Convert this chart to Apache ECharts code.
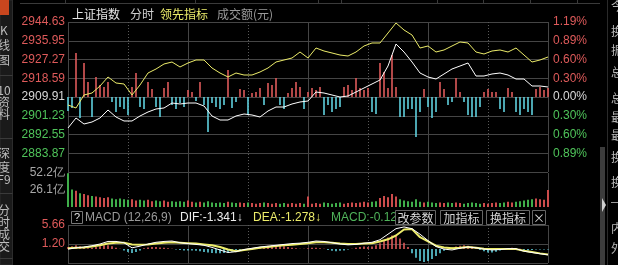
<!DOCTYPE html>
<html><head><meta charset="utf-8">
<script src="https://cdn.jsdelivr.net/npm/echarts@6/dist/echarts.min.js"></script>
<style>html,body{margin:0;padding:0;background:#000;overflow:hidden}#c{width:618px;height:265px}</style>
</head><body><div id="c"></div>
<script>
// ---------- data ----------
const preClose = 2909.91;
const priceStep = 8.68;
const leftTicks  = ['2944.63','2935.95','2927.27','2918.59','2909.91','2901.23','2892.55','2883.87'];
const rightTicks = ['1.19%','0.89%','0.60%','0.30%','0.00%','0.30%','0.60%','0.89%'];
const volTicks = ['26.1亿','52.2亿'];
const macdTicks = ['1.20','5.66'];
const volMax = 52.2;
// price (white) and leading indicator (yellow), one value every 4 minutes
const indexPrice = [2895.56,2900.19,2897.41,2898.34,2900.19,2903.89,2900.65,2898.80,2898.80,2901.11,
 2902.97,2904.36,2904.82,2907.13,2906.67,2907.13,2907.13,2905.74,2901.11,2899.26,
 2899.26,2901.11,2902.04,2901.58,2900.65,2903.43,2905.28,2905.28,2906.67,2907.60,
 2908.06,2912.22,2911.76,2910.84,2909.91,2910.37,2912.22,2914.08,2915.93,2917.78,
 2924.26,2934.45,2930.74,2926.11,2921.02,2919.17,2918.24,2920.56,2922.87,2924.26,
 2925.65,2919.63,2919.63,2920.56,2921.02,2920.09,2918.24,2918.24,2915.00,2915.00,2914.54];
const leadPrice = [2906.21,2904.82,2910.84,2911.76,2915.00,2919.17,2916.39,2915.93,2910.84,2915.47,
 2921.02,2922.87,2925.19,2926.11,2923.80,2925.65,2927.04,2927.04,2923.34,2921.02,
 2919.17,2921.02,2920.09,2920.09,2921.48,2923.34,2926.11,2927.04,2927.96,2930.74,
 2927.96,2932.59,2931.21,2930.28,2929.35,2928.89,2930.74,2933.52,2934.91,2934.91,
 2939.54,2944.17,2940.93,2938.61,2932.59,2933.52,2930.74,2931.67,2933.52,2935.37,
 2934.91,2930.74,2929.82,2931.21,2931.67,2930.74,2932.59,2929.35,2926.11,2927.04,2928.43];
// buy/sell strength bars, one every 2 minutes
const strength = [-14,-11,44,-21,34,15,-20,20,12,10,
 15,-5,-15,-10,-12,-18,10,24,-10,-12,
 15,8,-10,-20,9,15,-8,-12,-6,-10,
 7,5,-4,15,-8,-35,-6,-10,-12,-8,
 27,-11,-5,8,7,-18,4,5,9,-8,
 14,12,19,-8,-12,4,9,15,10,-12,
 5,9,7,10,-18,-8,-15,-12,-10,10,
 12,7,19,9,7,9,-15,-17,34,25,
 9,42,10,-20,-20,-12,-12,-40,-15,8,
 -10,-21,-15,15,8,-8,-5,19,5,-5,
 -18,-20,-20,-10,5,8,5,5,-12,-15,
 9,5,-15,-18,-12,-15,-18,8,10,7,9];
// turnover (亿), one every 2 minutes
const volume = [52,27,25,21,20,18,17,16,15,14,
 15,13,12,13,12,11,12,10,11,10,
 11,9,10,9,10,8,9,8,9,8,
 10,8,7,8,7,9,7,6,7,6,
 8,7,6,7,6,7,6,5,6,7,
 6,5,6,5,6,5,6,5,6,5,
 16,5,6,5,7,6,5,6,7,5,
 6,7,6,7,8,7,8,9,14,17,
 15,20,16,12,10,9,8,12,8,7,
 8,7,6,7,6,7,6,7,6,5,
 6,7,6,5,6,5,6,7,6,7,
 8,7,8,9,10,11,12,13,12,11,26];
// MACD histogram, one every 2 minutes
const macdBar = [0.5,0.7,0.9,0.7,0.3,0.2,0.3,0.5,0.7,0.9,
 0.9,0.7,0.3,0.1,-0.3,-0.7,-0.9,-0.7,-0.3,0.2,
 0.4,0.5,0.5,0.4,0.3,0.2,0.1,-0.1,-0.2,-0.3,
 -0.3,-0.3,-0.4,-0.5,-0.7,-0.8,-0.9,-1.0,-1.0,-0.9,
 -0.8,-0.6,-0.4,-0.2,0,0.1,0.2,0.3,0.4,0.6,
 0.8,0.9,0.9,0.8,0.7,0.5,0.3,0.2,0.1,0.1,
 0.2,0.3,0.3,0.2,0.1,-0.2,-0.4,-0.5,-0.4,-0.3,
 -0.1,0.1,0.3,0.5,0.6,0.5,0.6,0.9,1.4,2.0,
 2.7,3.2,3.3,2.5,1.5,0.5,-1.0,-2.0,-2.8,-3.0,
 -2.8,-2.3,-1.6,-1.0,-0.4,0.1,0.4,0.6,0.8,0.9,
 0.8,0.6,0.3,-0.2,-0.5,-0.8,-0.8,-0.6,-0.3,0.1,
 0.2,0.3,0.2,0.1,-0.2,-0.3,-0.2,-0.1,-0.1,-0.1,-0.12];
// DIF / DEA, one every 4 minutes
const dif = [0,0.3,0.5,0.8,1.2,1.8,1.8,1.5,0.3,0.7,
 1.2,1.6,1.8,1.9,1.5,1.3,1.1,0.9,0.4,-0.2,
 -0.8,-0.6,-0.1,0.2,0.5,0.7,0.9,1.1,1.3,1.4,
 1.6,1.9,1.8,1.5,1.2,1.0,1.1,1.4,1.6,2.2,
 3.5,4.8,5.2,4.8,3.5,2.0,0.6,0,-0.2,0.2,
 0.5,0.3,0,-0.2,-0.1,0.1,0.1,-0.5,-0.8,-1.1,-1.34];
const dea = [0.2,0.3,0.4,0.6,0.9,1.3,1.5,1.5,1.1,1.0,
 1.1,1.3,1.5,1.6,1.5,1.4,1.3,1.1,0.9,0.5,
 -0.1,-0.5,-0.2,0,0.3,0.5,0.7,0.9,1.0,1.2,
 1.4,1.6,1.6,1.5,1.3,1.2,1.2,1.3,1.4,1.8,
 2.3,3.2,4.6,4.7,2.8,1.8,0.8,0.4,0.2,0.3,
 0.5,0.3,0.1,0,0,0,0,-0.4,-0.7,-1.0,-1.28];
const macdMin = -3.26, macdMax = 5.66, macdStep = 4.46;

// ---------- styles ----------
const RED = '#de5a5a', GREEN = '#4fc45a', CYAN = '#5fd0de', YEL = '#ecec6a';
const GRID = '#454545';
const NUM = '"Liberation Sans", Arial, sans-serif';
const CJK = '"Noto Sans CJK SC", sans-serif';

const lineStep = 4, barStep = 2;
const toPair = (arr, step, f) => arr.map((v, i) => [i * step, f ? f(v) : v]);

function xPair(grid) {
  return [
    {type:'value', gridIndex:grid, min:0, max:240, interval:30,
     axisLine:{show:false}, axisTick:{show:false}, axisLabel:{show:false},
     splitLine:{show:true, lineStyle:{color:'#5a5a5a', type:[1,2], width:1}}},
    {type:'value', gridIndex:grid, min:0, max:240, interval:60,
     axisLine:{show:false}, axisTick:{show:false}, axisLabel:{show:false},
     splitLine:{show:true, lineStyle:{color:GRID, width:1}}}
  ];
}

const priceColor = v => v > 0.001 ? RED : (v < -0.001 ? GREEN : '#d8d8d8');

const option = {
  backgroundColor:'#000',
  animation:false,
  grid:[
    {left:68, top:22, width:480, height:150},
    {left:68, top:173, width:480, height:34},
    {left:68, top:225, width:480, height:38}
  ],
  xAxis:[].concat(xPair(0), xPair(1), xPair(2)),
  yAxis:[
    {type:'value', gridIndex:0, min:-4*priceStep, max:4*priceStep, interval:priceStep,
     axisLine:{show:false}, axisTick:{show:false},
     axisLabel:{margin:3, fontSize:12, fontFamily:NUM, color:priceColor,
       formatter:v => { const k = Math.round(v/priceStep); return k <= -4 ? '' : leftTicks[4-k]; }},
     splitLine:{show:true, lineStyle:{color:GRID, width:1}}},
    {type:'value', gridIndex:0, position:'right', min:-4*priceStep, max:4*priceStep, interval:priceStep,
     axisLine:{show:false}, axisTick:{show:false},
     axisLabel:{margin:5, fontSize:12, fontFamily:NUM, color:priceColor,
       formatter:v => { const k = Math.round(v/priceStep); return k <= -4 ? '' : rightTicks[4-k]; }},
     splitLine:{show:false}},
    {type:'value', gridIndex:0, min:-75, max:75, show:false, splitLine:{show:false}},
    {type:'value', gridIndex:1, min:0, max:volMax, interval:volMax/2,
     axisLine:{show:false}, axisTick:{show:false},
     axisLabel:{margin:3, fontSize:12, fontFamily:NUM, color:'#a8a8a8',
       formatter:v => { const k = Math.round(v/(volMax/2)); return k <= 0 ? '' : volTicks[k-1]; }},
     splitLine:{show:false}},
    {type:'value', gridIndex:2, min:-macdStep, max:macdStep, interval:macdStep,
     axisLine:{show:false}, axisTick:{show:false},
     axisLabel:{margin:3, fontSize:12, fontFamily:NUM, color:RED,
       formatter:v => { const k = Math.round(v/macdStep); return k < 0 ? '' : macdTicks[k]; }},
     splitLine:{show:true, lineStyle:{color:GRID, width:1}}},
    {type:'value', gridIndex:2, min:macdMin, max:macdMax, show:false, splitLine:{show:false}}
  ],
  series:[
    {type:'bar', xAxisIndex:0, yAxisIndex:2, barWidth:1.6, silent:true,
     data: strength.map((v,i) => ({value:[i*barStep, v], itemStyle:{color: v >= 0 ? RED : CYAN}}))},
    {type:'line', xAxisIndex:0, yAxisIndex:0, showSymbol:false, silent:true,
     lineStyle:{color:YEL, width:1}, data: toPair(leadPrice, lineStep, p => p - preClose)},
    {type:'line', xAxisIndex:0, yAxisIndex:0, showSymbol:false, silent:true,
     lineStyle:{color:'#ffffff', width:1}, data: toPair(indexPrice, lineStep, p => p - preClose)},
    {type:'bar', xAxisIndex:2, yAxisIndex:3, barWidth:2, silent:true,
     data: volume.map((v,i) => ({value:[i*barStep, v], itemStyle:{color: strength[i] >= 0 ? '#cc4b4b' : '#3fae4a'}}))},
    {type:'bar', xAxisIndex:4, yAxisIndex:5, barWidth:1.6, silent:true,
     data: macdBar.map((v,i) => ({value:[i*barStep, v], itemStyle:{color: v >= 0 ? RED : CYAN}}))},
    {type:'line', xAxisIndex:4, yAxisIndex:5, showSymbol:false, silent:true,
     lineStyle:{color:YEL, width:2}, data: toPair(dea, lineStep)},
    {type:'line', xAxisIndex:4, yAxisIndex:5, showSymbol:false, silent:true,
     lineStyle:{color:'#ffffff', width:1}, data: toPair(dif, lineStep)}
  ],
  graphic:[]
};

// ---------- decorations (text) ----------
const G = option.graphic;
function txt(x, y, s, fill, font, align) {
  G.push({type:'text', x:x, y:y, silent:true,
    style:{text:s, fill:fill, font:font, textAlign:align||'left', textVerticalAlign:'middle', align:align||'left', verticalAlign:'middle'}});
}
function box(x, y, w, h, stroke, fill) {
  G.push({type:'rect', silent:true, shape:{x:x, y:y, width:w, height:h},
    style:{stroke:stroke, fill:fill||'none', lineWidth:1}});
}
function hline(x1, x2, y, c) {
  G.push({type:'line', silent:true, shape:{x1:x1, y1:y, x2:x2, y2:y}, style:{stroke:c, lineWidth:1}});
}
function vline(x, y1, y2, c) {
  G.push({type:'line', silent:true, shape:{x1:x, y1:y1, x2:x, y2:y2}, style:{stroke:c, lineWidth:1}});
}
// top toolbar edges
hline(20, 600, 3.5, '#3a3a3a');
[65, 195, 318, 341, 437, 483, 530, 577].forEach(x => vline(x+0.5, 0, 4, '#3a3a3a'));
// left tab strip
box(0, 0, 12.5, 265, '#2c2c2c', '#1a1a1a');
G.push({type:'rect', silent:true, shape:{x:0, y:0, width:9, height:15}, style:{fill:'#c8461e'}});
[['K',30],['线',45],['图',60],['10',90],['资',102],['料',114],['深',153],['度',167],['F9',179],['分',210],['时',222],['成',234],['交',246]]
  .forEach(a => txt(4, a[1], a[0], '#bdbdbd', '12px ' + CJK, 'center'));
[75, 138, 193, 258].forEach(y => hline(0, 12.5, y+0.5, '#3a3a3a'));
// header
txt(72, 14, '上证指数', '#e6e6e6', '12px ' + CJK);
txt(130, 14, '分时', '#d0d0d0', '12px ' + CJK);
txt(160, 14, '领先指标', YEL, '12px ' + CJK);
txt(217, 14, '成交额(元)', '#9a9a9a', '12px ' + CJK);
// MACD header
box(71.5, 211.5, 11, 12, '#777');
txt(77, 217.5, '?', '#e0e0e0', '11px ' + NUM, 'center');
txt(85, 217.5, 'MACD (12,26,9)', '#9a9a9a', '12px ' + NUM);
txt(180, 217.5, 'DIF:-1.341↓', '#ececec', '12px ' + NUM);
txt(253, 217.5, 'DEA:-1.278↓', YEL, '12px ' + NUM);
txt(331, 217.5, 'MACD:-0.12', '#4fb35a', '12px ' + NUM);
[[395,40,'改参数'],[440,42,'加指标'],[486,43,'换指标'],[532,13,'×']].forEach(b => {
  box(b[0]+0.5, 210.5, b[1], 14, '#666', '#000');
  txt(b[0] + b[1]/2 + 0.5, 218, b[2], '#d6d6d6', '12px ' + CJK, 'center');
});
// right side panel
vline(607.5, 0, 265, '#2a2a2a');
G.push({type:'rect', silent:true, shape:{x:600, y:147, width:5, height:118}, style:{fill:'#3c3c3c'}});
G.push({type:'polygon', silent:true, shape:{points:[[602,198],[606,205],[602,212]]}, style:{fill:'#cfcfcf'}});
[['今',6],['换',31],['振',50],['总',72],['总',98],['最',117],['最',135],['换',157],['换',182],['内',228],['外',248]]
  .forEach(a => txt(611, a[1], a[0], '#b8b8b8', '12px ' + CJK));
hline(611, 618, 202.5, '#9a9a9a');

echarts.init(document.getElementById('c'), null, {renderer:'canvas'}).setOption(option);
</script>
</body></html>
